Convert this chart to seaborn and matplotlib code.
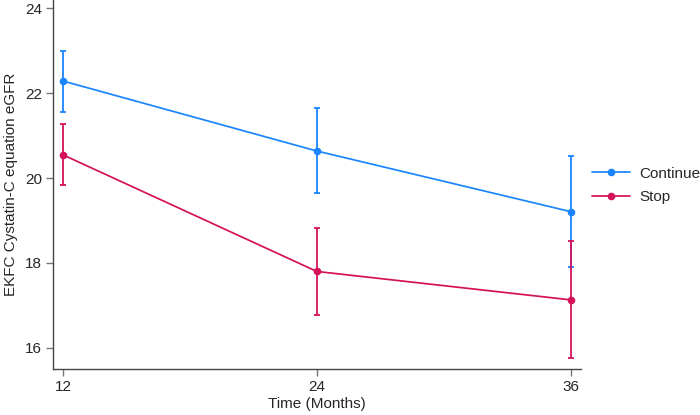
import matplotlib

matplotlib.use("Agg")
import matplotlib.pyplot as plt
import pandas as pd
import seaborn as sns

# values
months = [12, 24, 36]
continue_mean = [22.29, 20.64, 19.21]
continue_lo = [21.55, 19.65, 17.90]
continue_hi = [23.00, 21.65, 20.52]
stop_mean = [20.55, 17.80, 17.13]
stop_lo = [19.83, 16.77, 15.75]
stop_hi = [21.28, 18.82, 18.52]

groups = ["Continue", "Stop"]
palette = {"Continue": "#1a85ff", "Stop": "#d41159"}

df = pd.concat([
    pd.DataFrame({"Time": months, "eGFR": continue_mean, "lo": continue_lo,
                  "hi": continue_hi, "Group": "Continue"}),
    pd.DataFrame({"Time": months, "eGFR": stop_mean, "lo": stop_lo,
                  "hi": stop_hi, "Group": "Stop"}),
], ignore_index=True)

sns.set_theme(style="ticks")
plt.rcParams["font.family"] = ["Liberation Sans", "DejaVu Sans"]

fig = plt.figure(figsize=(7, 4.15), dpi=100)
ax = fig.add_axes([0.0757, 0.1108, 0.7539, 0.8892])

for g in groups:
    d = df[df["Group"] == g]
    ax.errorbar(d["Time"], d["eGFR"],
                yerr=[d["eGFR"] - d["lo"], d["hi"] - d["eGFR"]],
                fmt="none", ecolor=palette[g], elinewidth=1.3,
                capsize=2.5, capthick=1.3, zorder=2)

sns.lineplot(data=df, x="Time", y="eGFR", hue="Group", hue_order=groups,
             palette=palette, marker="o", markersize=5.5, markeredgewidth=0,
             linewidth=1.25, ax=ax, zorder=3)

ax.set_xlim(11.53, 36.47)
ax.set_ylim(15.5, 24.2)
ax.set_xticks(months)
ax.set_yticks([16, 18, 20, 22, 24])
ax.set_xlabel("Time (Months)", fontsize=11, labelpad=2)
ax.set_ylabel("EKFC Cystatin-C equation eGFR", fontsize=11, labelpad=5)
ax.tick_params(labelsize=11, length=5, width=1, color="#777777",
               direction="out", pad=3)
for s in ("top", "right"):
    ax.spines[s].set_visible(False)
for s in ("left", "bottom"):
    ax.spines[s].set_color("#444444")
    ax.spines[s].set_linewidth(1)

ax.legend(loc="upper left", bbox_to_anchor=(1.01, 0.565), frameon=False,
          fontsize=11, handlelength=2.5, handletextpad=0.6,
          labelspacing=0.62, borderaxespad=0, title=None)

fig.savefig("out.png", dpi=100)
